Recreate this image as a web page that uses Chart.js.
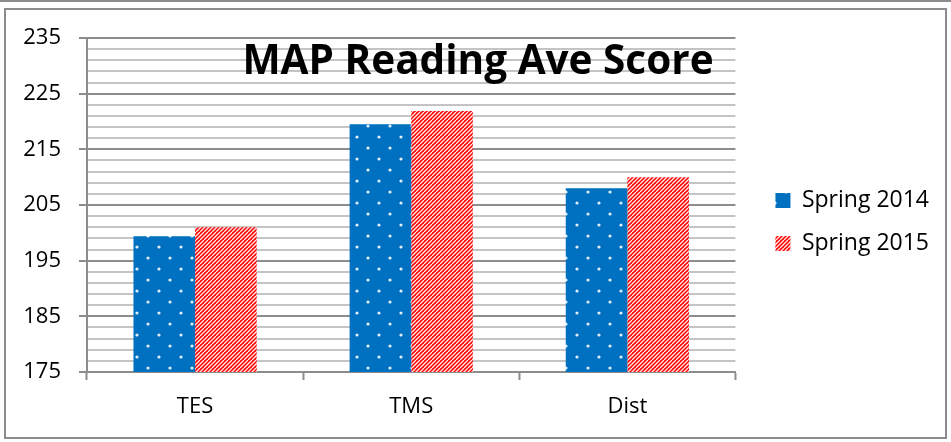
<!DOCTYPE html>
<html>
<head>
<meta charset="utf-8">
<script src="https://cdn.jsdelivr.net/npm/chart.js@4.4.1/dist/chart.umd.min.js"></script>
<style>
  html, body { margin: 0; padding: 0; background: #fff; }
  #wrap { width: 951px; height: 442px; }
</style>
</head>
<body>
<div id="wrap"><canvas id="chart" width="951" height="442"></canvas></div>
<script>
// chart data
var categories = ['TES', 'TMS', 'Dist'];
var seriesNames = ['Spring 2014', 'Spring 2015'];
var spring2014 = [199.4, 219.5, 208.0];
var spring2015 = [201.0, 221.9, 210.0];
var yMin = 175, yMax = 235, yStep = 2, yLabelStep = 10;
var titleText = 'MAP Reading Ave Score';

var FONT = '"Open Sans", sans-serif';

// blue with white dots
function dotPattern() {
    var c = document.createElement('canvas');
    c.width = 22; c.height = 22;
    var g = c.getContext('2d');
    g.fillStyle = '#0070C0';
    g.fillRect(0, 0, 22, 22);
    g.fillStyle = '#e0eefa';
    [[5, 5], [16, 16]].forEach(function(p) {
        g.beginPath();
        g.arc(p[0], p[1], 1.6, 0, Math.PI * 2);
        g.fill();
    });
    return g.createPattern(c, 'repeat');
}

// red with white diagonal stripes
function stripePattern() {
    var c = document.createElement('canvas');
    c.width = 8; c.height = 8;
    var g = c.getContext('2d');
    g.fillStyle = '#FF0000';
    g.fillRect(0, 0, 8, 8);
    g.strokeStyle = '#ffe4e4';
    g.lineWidth = 1.3;
    for (var k = -8; k <= 16; k += 4) {
        g.beginPath();
        g.moveTo(k, 8);
        g.lineTo(k + 8, 0);
        g.stroke();
    }
    return g.createPattern(c, 'repeat');
}

var frame = {
    id: 'frame',
    afterLayout: function(chart) {
        // nudge the legend to where the original sits
        var lg = chart.legend;
        lg.left += 20; lg.right += 20;
        lg.top -= 12; lg.bottom -= 12;
    },
    beforeDraw: function(chart) {
        var c = chart.ctx;
        c.save();
        c.fillStyle = '#fff';
        c.fillRect(0, 0, chart.width, chart.height);
        c.strokeStyle = '#8c8c8c';
        c.lineWidth = 2;
        c.beginPath();
        c.moveTo(0, 1); c.lineTo(chart.width, 1);
        c.stroke();
        c.strokeRect(5, 9, 941, 429);
        c.restore();
    },
    afterDraw: function(chart) {
        var c = chart.ctx;
        c.save();
        c.fillStyle = '#000';
        c.font = 'bold 40.5px ' + FONT;
        c.textAlign = 'center';
        c.textBaseline = 'alphabetic';
        c.fillText(titleText, 478, 74);
        c.restore();
    }
};

var ctx = document.getElementById('chart');

new Chart(ctx, {
    type: 'bar',
    data: {
        labels: categories,
        datasets: [{
            label: seriesNames[0],
            data: spring2014,
            backgroundColor: dotPattern(),
            borderWidth: 0
        }, {
            label: seriesNames[1],
            data: spring2015,
            backgroundColor: stripePattern(),
            borderWidth: 0
        }]
    },
    options: {
        responsive: false,
        animation: false,
        layout: { padding: { left: 4, top: 38, right: 32, bottom: 12 } },
        datasets: { bar: { categoryPercentage: 0.57, barPercentage: 1.0 } },
        plugins: {
            title: { display: false },
            tooltip: { enabled: false },
            legend: {
                position: 'right',
                labels: {
                    font: { family: FONT, size: 23 },
                    color: '#000',
                    boxWidth: 15,
                    boxHeight: 15,
                    padding: 20
                }
            }
        },
        scales: {
            x: {
                grid: {
                    offset: true,
                    drawOnChartArea: false,
                    tickLength: 8,
                    tickColor: '#8c8c8c',
                    tickWidth: 2
                },
                border: { color: '#8c8c8c', width: 2 },
                ticks: { font: { family: FONT, size: 22 }, color: '#000', padding: 14 },
                afterFit: function(s) { s.height = 58; }
            },
            y: {
                min: yMin,
                max: yMax,
                ticks: {
                    stepSize: yStep,
                    autoSkip: false,
                    font: { family: FONT, size: 22 },
                    color: '#000',
                    padding: 18,
                    callback: function(v) { return (v - yMin) % yLabelStep === 0 ? v : ''; }
                },
                grid: {
                    color: function(c) { return (c.tick.value - yMin) % yLabelStep === 0 ? '#8c8c8c' : '#c4c4c4'; },
                    lineWidth: 2,
                    tickLength: 8,
                    tickWidth: 2,
                    tickColor: function(c) { return (c.tick.value - yMin) % yLabelStep === 0 ? '#8c8c8c' : 'rgba(0,0,0,0)'; }
                },
                border: { color: '#8c8c8c', width: 2 },
                afterFit: function(s) { s.width = 83; }
            }
        }
    },
    plugins: [frame]
});
</script>
</body>
</html>
